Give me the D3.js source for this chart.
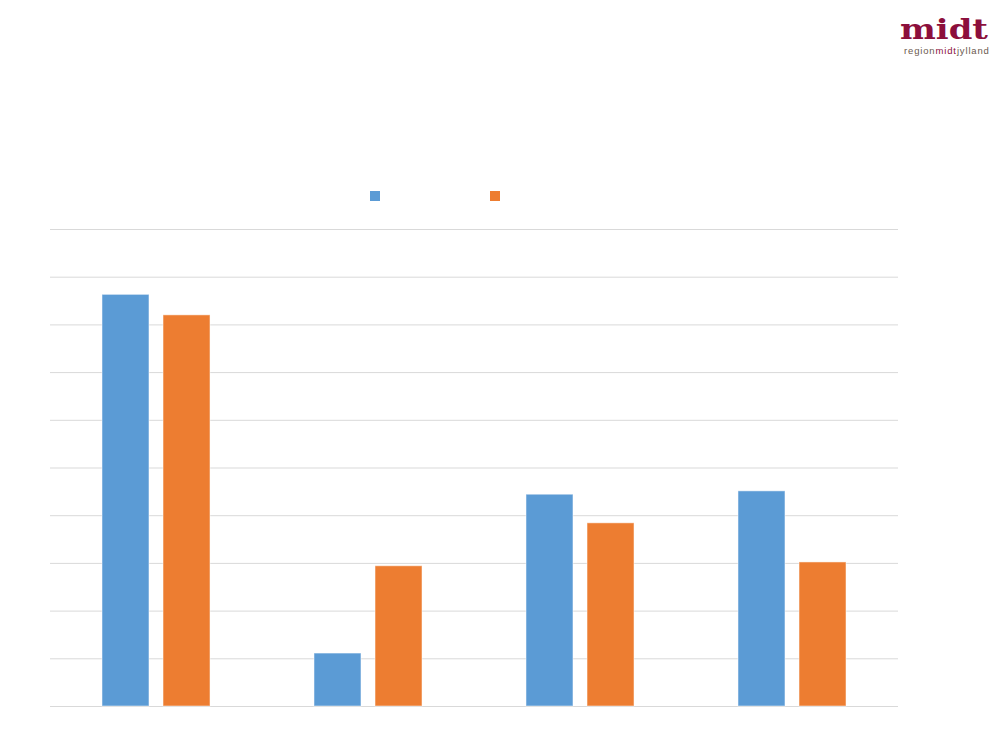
<!DOCTYPE html>
<html>
<head>
<meta charset="utf-8">
<script src="https://cdn.jsdelivr.net/npm/d3@7"></script>
<style>
  html, body { margin: 0; padding: 0; background: #fff; }
  svg { display: block; }
</style>
</head>
<body>
<svg id="chart" width="1000" height="750"></svg>
<script>
const categories = ["Kategori 1", "Kategori 2", "Kategori 3", "Kategori 4"];
const seriesNames = ["Serie 1", "Serie 2"];
const series1 = [8.63, 1.11, 4.44, 4.51];
const series2 = [8.20, 2.94, 3.84, 3.02];
const yTicks = [0, 1, 2, 3, 4, 5, 6, 7, 8, 9, 10];
const colors = ["#5B9BD5", "#ED7D31"];

(function () {
const svg = d3.select("#chart");
const plotLeft = 50, plotRight = 898, plotTop = 229, plotBottom = 706;

const x0 = d3.scaleBand().domain(categories).range([plotLeft, plotRight]).padding(0);
const x1 = d3.scaleBand().domain(seriesNames).range([0, x0.bandwidth()])
  .paddingInner(0.23).paddingOuter(0.852);
const y = d3.scaleLinear().domain([0, 10]).range([plotBottom, plotTop]);

// gridlines
const grid = svg.append("g")
  .attr("transform", `translate(${plotLeft},0)`)
  .call(d3.axisLeft(y).tickValues(yTicks).tickSize(-(plotRight - plotLeft)).tickFormat(""));
grid.select(".domain").remove();
grid.selectAll(".tick line").attr("stroke", "#d9d9d9").attr("stroke-width", 1);

const values = [series1, series2];
const rows = categories.map((c, i) => ({ cat: c, vals: seriesNames.map((s, j) => ({ s, v: values[j][i], j })) }));

svg.append("g").selectAll("g").data(rows).join("g")
  .attr("transform", d => `translate(${x0(d.cat)},0)`)
  .selectAll("rect").data(d => d.vals).join("rect")
  .attr("x", d => x1(d.s))
  .attr("y", d => y(d.v))
  .attr("width", x1.bandwidth())
  .attr("height", d => y(0) - y(d.v))
  .attr("fill", d => colors[d.j])
  .attr("stroke", "#ffffff")
  .attr("stroke-opacity", 0.5)
  .attr("stroke-width", 1);

// legend (markers only)
const legendX = [370, 490];
svg.append("g").selectAll("rect").data(seriesNames).join("rect")
  .attr("x", (d, i) => legendX[i])
  .attr("y", 191)
  .attr("width", 10)
  .attr("height", 10)
  .attr("fill", (d, i) => colors[i]);

// logo
const logo = svg.append("g");
logo.append("text")
  .attr("x", 900).attr("y", 39)
  .attr("font-family", "DejaVu Serif")
  .attr("font-weight", "bold")
  .attr("font-size", 28)
  .attr("textLength", 88)
  .attr("lengthAdjust", "spacingAndGlyphs")
  .attr("fill", "#8C0F3C")
  .text("midt");
const sub = logo.append("text")
  .attr("x", 904).attr("y", 54)
  .attr("font-family", "Liberation Sans")
  .attr("font-size", 9.5)
  .attr("letter-spacing", 0.85);
sub.append("tspan").attr("fill", "#6b5a4e").text("region");
sub.append("tspan").attr("fill", "#8C0F3C").text("midt");
sub.append("tspan").attr("fill", "#6b5a4e").text("jylland");
})();
</script>
</body>
</html>
